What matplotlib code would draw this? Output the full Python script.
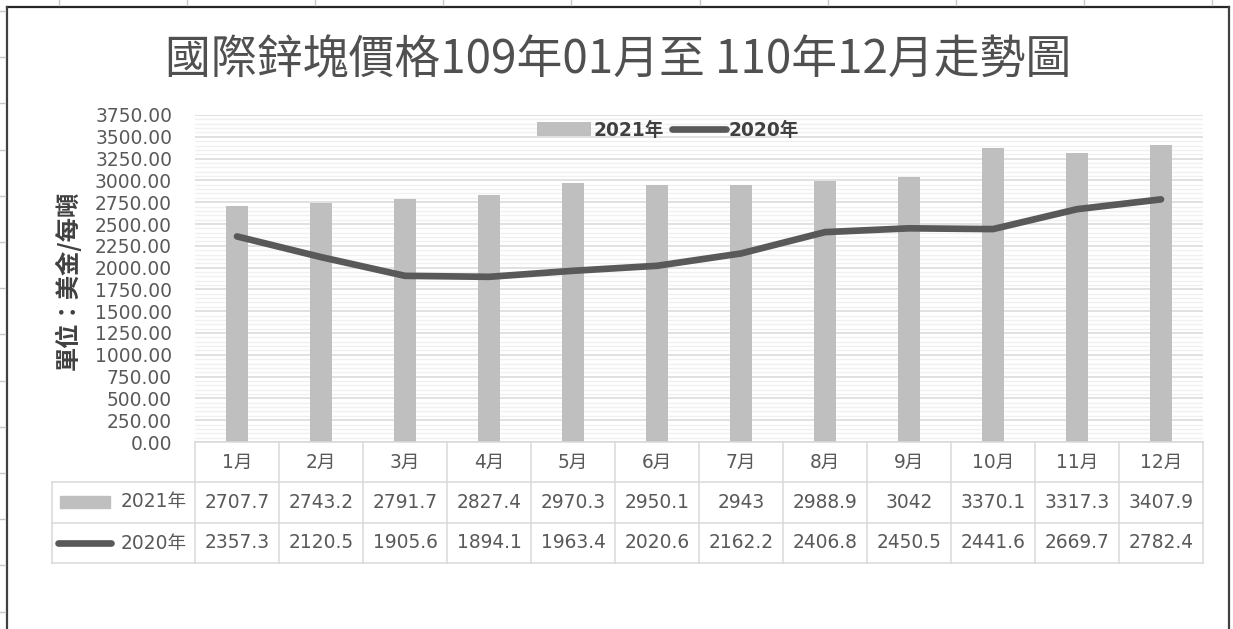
import matplotlib
matplotlib.use('Agg')
import numpy as np
import matplotlib.pyplot as plt
from matplotlib.patches import Rectangle
from matplotlib.lines import Line2D

months = ['1月', '2月', '3月', '4月', '5月', '6月', '7月', '8月', '9月', '10月', '11月', '12月']
price_2021 = [2707.7, 2743.2, 2791.7, 2827.4, 2970.3, 2950.1, 2943, 2988.9, 3042, 3370.1, 3317.3, 3407.9]
price_2020 = [2357.3, 2120.5, 1905.6, 1894.1, 1963.4, 2020.6, 2162.2, 2406.8, 2450.5, 2441.6, 2669.7, 2782.4]
label_2021 = '2021年'
label_2020 = '2020年'
title = '國際鋅塊價格109年01月至 110年12月走勢圖'
ylabel = '單位：美金/每噸'

W, H = 1233, 629
FAM = ['DejaVu Sans', 'Noto Sans CJK TC']
CJK = ['Noto Sans CJK TC', 'DejaVu Sans']
TXT = '#595959'
GRID = '#d9d9d9'
BAR_C = '#bfbfbf'
LINE_C = '#595959'


def fx(x):
    return x / W


def fy(y):
    return 1 - y / H


fig = plt.figure(figsize=(W / 100, H / 100), dpi=100)

# page frame and the faint sheet ticks around it
fig.add_artist(Line2D([fx(7), fx(1229)], [fy(6.5), fy(6.5)], color='#262626', lw=1.6))
fig.add_artist(Line2D([fx(7), fx(7)], [fy(6.5), 0], color='#404040', lw=1.6))
fig.add_artist(Line2D([fx(1229), fx(1229)], [fy(6.5), 0], color='#404040', lw=1.6))
for tx in np.arange(59, 1233, 128.1):
    fig.add_artist(Line2D([fx(tx), fx(tx)], [fy(0), fy(5)], color='#c8c8c8', lw=1))
for ty in np.arange(11, 629, 46.2):
    fig.add_artist(Line2D([fx(0), fx(5)], [fy(ty), fy(ty)], color='#c8c8c8', lw=1))

# title
fig.text(fx(618), fy(60), title, ha='center', va='center', fontsize=33,
         family=CJK, color='#505050')

# main plot area
left, right, top, bottom = 195, 1203, 115, 442
ax = fig.add_axes([fx(left), fy(bottom), fx(right - left), (bottom - top) / H])
x = np.arange(len(months))
bars = ax.bar(x, price_2021, width=0.27, color=BAR_C, zorder=3, label=label_2021)
line, = ax.plot(x, price_2020, color=LINE_C, lw=4.8, solid_capstyle='round',
                solid_joinstyle='round', zorder=4, label=label_2020)
ax.set_xlim(-0.5, len(months) - 0.5)
ax.set_ylim(0, 3750)
ax.set_yticks(np.arange(0, 3751, 250))
ax.set_yticks(np.arange(0, 3751, 50), minor=True)
ax.set_yticklabels([f'{v:.2f}' for v in np.arange(0, 3751, 250)], family=FAM,
                   fontsize=13.4, color=TXT)
ax.grid(axis='y', which='minor', color='#f0f0f0', lw=1, zorder=0)
ax.grid(axis='y', which='major', color=GRID, lw=1.1, zorder=1)
ax.tick_params(axis='y', which='both', length=0, pad=16.5)
ax.tick_params(axis='x', which='both', length=0, labelbottom=False)
for s in ax.spines.values():
    s.set_visible(False)

leg = ax.legend(handles=[bars, line], loc='center', bbox_to_anchor=(fx(668), fy(130)),
                bbox_transform=fig.transFigure, ncol=2, frameon=False,
                handlelength=2.9, handletextpad=0.15, columnspacing=0.4,
                prop={'family': FAM, 'weight': 'bold', 'size': 13.4})
for t in leg.get_texts():
    t.set_color('#404040')

fig.text(fx(68), fy(280), ylabel, rotation=90, ha='center', va='center',
         fontsize=17.5, weight='bold', family=CJK, color='#404040')

# data table under the plot
tab = fig.add_axes([fx(left), fy(563), fx(right - left), (563 - bottom) / H])
tab.set_xlim(-0.5, len(months) - 0.5)
tab.set_ylim(0, 3)
tab.axis('off')
col_w = (right - left) / len(months)
x_left = (52 - left) / col_w - 0.5
for k in range(len(months) + 1):
    tab.plot([k - 0.5, k - 0.5], [0, 3], color=GRID, lw=1.1, clip_on=False)
tab.plot([-0.5, len(months) - 0.5], [3, 3], color=GRID, lw=1.1, clip_on=False)
for r in [0, 1, 2]:
    tab.plot([x_left, len(months) - 0.5], [r, r], color=GRID, lw=1.1, clip_on=False)
tab.plot([x_left, x_left], [0, 2], color=GRID, lw=1.1, clip_on=False)

for i, m in enumerate(months):
    tab.text(i, 2.5, m, ha='center', va='center', family=FAM, fontsize=13.4, color=TXT)
    tab.text(i, 1.5, f'{price_2021[i]:g}', ha='center', va='center', family=FAM,
             fontsize=13.4, color=TXT)
    tab.text(i, 0.5, f'{price_2020[i]:g}', ha='center', va='center', family=FAM,
             fontsize=13.4, color=TXT)

# row keys
fig.add_artist(Rectangle((fx(60), fy(508)), fx(50), 12 / H, color=BAR_C))
fig.add_artist(Line2D([fx(58), fx(111)], [fy(543), fy(543)], color=LINE_C, lw=4.8,
                      solid_capstyle='round'))
fig.text(fx(187), fy(502), label_2021, ha='right', va='center', family=FAM,
         fontsize=13.4, color=TXT)
fig.text(fx(187), fy(543), label_2020, ha='right', va='center', family=FAM,
         fontsize=13.4, color=TXT)

fig.savefig('out.png', dpi=100)
